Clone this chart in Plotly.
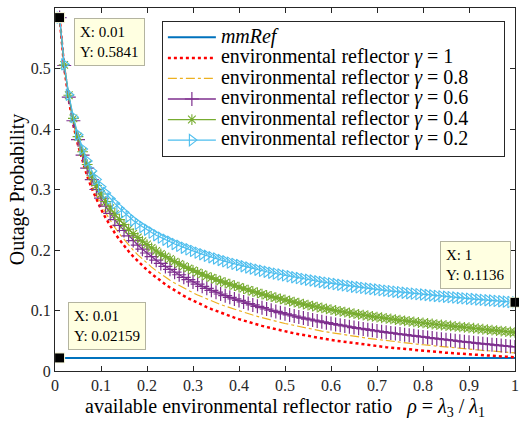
import plotly.graph_objects as go

# ---------------- data ----------------
rho = [0.01, 0.02, 0.03, 0.04, 0.05, 0.06, 0.07, 0.08, 0.09, 0.10,
       0.11, 0.12, 0.13, 0.14, 0.15, 0.16, 0.17, 0.18, 0.19, 0.20,
       0.21, 0.22, 0.23, 0.24, 0.25, 0.26, 0.27, 0.28, 0.29, 0.30,
       0.31, 0.32, 0.33, 0.34, 0.35, 0.36, 0.37, 0.38, 0.39, 0.40,
       0.41, 0.42, 0.43, 0.44, 0.45, 0.46, 0.47, 0.48, 0.49, 0.50,
       0.51, 0.52, 0.53, 0.54, 0.55, 0.56, 0.57, 0.58, 0.59, 0.60,
       0.61, 0.62, 0.63, 0.64, 0.65, 0.66, 0.67, 0.68, 0.69, 0.70,
       0.71, 0.72, 0.73, 0.74, 0.75, 0.76, 0.77, 0.78, 0.79, 0.80,
       0.81, 0.82, 0.83, 0.84, 0.85, 0.86, 0.87, 0.88, 0.89, 0.90,
       0.91, 0.92, 0.93, 0.94, 0.95, 0.96, 0.97, 0.98, 0.99, 1.00]

mmref_x = [0.01, 1.00]
mmref_y = [0.02159, 0.02159]

p_gamma_1 = [0.5841, 0.5020, 0.4477, 0.4066, 0.3734, 0.3458, 0.3222, 0.3017, 0.2837, 0.2676,
             0.2531, 0.2400, 0.2281, 0.2172, 0.2072, 0.1979, 0.1893, 0.1814, 0.1739, 0.1670,
             0.1605, 0.1544, 0.1486, 0.1432, 0.1381, 0.1332, 0.1287, 0.1243, 0.1202, 0.1163,
             0.1125, 0.1090, 0.1056, 0.1024, 0.0993, 0.0963, 0.0935, 0.0908, 0.0882, 0.0857,
             0.0833, 0.0810, 0.0788, 0.0767, 0.0746, 0.0727, 0.0708, 0.0690, 0.0672, 0.0655,
             0.0639, 0.0623, 0.0608, 0.0593, 0.0579, 0.0565, 0.0551, 0.0538, 0.0526, 0.0514,
             0.0502, 0.0491, 0.0480, 0.0469, 0.0458, 0.0448, 0.0439, 0.0429, 0.0420, 0.0411,
             0.0402, 0.0394, 0.0386, 0.0378, 0.0370, 0.0362, 0.0355, 0.0348, 0.0340, 0.0334,
             0.0327, 0.0321, 0.0314, 0.0308, 0.0302, 0.0297, 0.0291, 0.0285, 0.0280, 0.0275,
             0.0270, 0.0264, 0.0259, 0.0255, 0.0250, 0.0246, 0.0241, 0.0237, 0.0232, 0.0228]

p_gamma_08 = [0.5841, 0.5030, 0.4497, 0.4096, 0.3774, 0.3506, 0.3278, 0.3081, 0.2909, 0.2756,
              0.2615, 0.2488, 0.2373, 0.2268, 0.2172, 0.2081, 0.1997, 0.1920, 0.1847, 0.1780,
              0.1717, 0.1658, 0.1602, 0.1550, 0.1501, 0.1454, 0.1411, 0.1369, 0.1330, 0.1293,
              0.1256, 0.1222, 0.1189, 0.1158, 0.1128, 0.1099, 0.1072, 0.1046, 0.1021, 0.0997,
              0.0972, 0.0948, 0.0925, 0.0903, 0.0881, 0.0861, 0.0841, 0.0822, 0.0803, 0.0785,
              0.0768, 0.0751, 0.0735, 0.0719, 0.0704, 0.0689, 0.0674, 0.0660, 0.0647, 0.0634,
              0.0621, 0.0609, 0.0597, 0.0585, 0.0573, 0.0562, 0.0552, 0.0541, 0.0531, 0.0521,
              0.0511, 0.0502, 0.0493, 0.0484, 0.0475, 0.0466, 0.0458, 0.0450, 0.0441, 0.0434,
              0.0426, 0.0418, 0.0410, 0.0402, 0.0395, 0.0388, 0.0381, 0.0373, 0.0367, 0.0360,
              0.0353, 0.0346, 0.0340, 0.0335, 0.0329, 0.0323, 0.0317, 0.0312, 0.0306, 0.0300]

p_gamma_06 = [0.5841, 0.5050, 0.4527, 0.4136, 0.3824, 0.3568, 0.3352, 0.3164, 0.3000, 0.2856,
              0.2724, 0.2607, 0.2501, 0.2407, 0.2322, 0.2235, 0.2155, 0.2082, 0.2013, 0.1950,
              0.1889, 0.1832, 0.1778, 0.1728, 0.1681, 0.1634, 0.1591, 0.1549, 0.1510, 0.1473,
              0.1435, 0.1400, 0.1366, 0.1334, 0.1303, 0.1273, 0.1245, 0.1218, 0.1192, 0.1167,
              0.1141, 0.1116, 0.1092, 0.1069, 0.1046, 0.1025, 0.1004, 0.0984, 0.0964, 0.0945,
              0.0927, 0.0909, 0.0892, 0.0875, 0.0859, 0.0843, 0.0827, 0.0812, 0.0798, 0.0784,
              0.0770, 0.0757, 0.0744, 0.0731, 0.0718, 0.0706, 0.0695, 0.0683, 0.0672, 0.0661,
              0.0650, 0.0640, 0.0630, 0.0620, 0.0610, 0.0600, 0.0591, 0.0582, 0.0572, 0.0564,
              0.0554, 0.0545, 0.0535, 0.0526, 0.0517, 0.0509, 0.0500, 0.0491, 0.0483, 0.0475,
              0.0467, 0.0458, 0.0450, 0.0443, 0.0435, 0.0428, 0.0420, 0.0413, 0.0405, 0.0398]

p_gamma_04 = [0.5841, 0.5060, 0.4557, 0.4176, 0.3874, 0.3623, 0.3412, 0.3227, 0.3067, 0.2926,
              0.2801, 0.2690, 0.2591, 0.2502, 0.2422, 0.2343, 0.2271, 0.2206, 0.2145, 0.2090,
              0.2035, 0.1984, 0.1936, 0.1892, 0.1851, 0.1808, 0.1769, 0.1731, 0.1696, 0.1663,
              0.1629, 0.1598, 0.1568, 0.1540, 0.1513, 0.1485, 0.1459, 0.1434, 0.1410, 0.1387,
              0.1362, 0.1338, 0.1315, 0.1293, 0.1271, 0.1251, 0.1231, 0.1212, 0.1193, 0.1175,
              0.1157, 0.1139, 0.1122, 0.1105, 0.1089, 0.1073, 0.1057, 0.1042, 0.1028, 0.1014,
              0.1000, 0.0987, 0.0974, 0.0961, 0.0948, 0.0936, 0.0925, 0.0913, 0.0902, 0.0891,
              0.0880, 0.0870, 0.0860, 0.0850, 0.0840, 0.0830, 0.0821, 0.0812, 0.0802, 0.0794,
              0.0785, 0.0777, 0.0768, 0.0760, 0.0752, 0.0745, 0.0737, 0.0729, 0.0722, 0.0715,
              0.0707, 0.0698, 0.0690, 0.0683, 0.0675, 0.0668, 0.0660, 0.0653, 0.0645, 0.0638]

p_gamma_02 = [0.5841, 0.5070, 0.4567, 0.4196, 0.3904, 0.3668, 0.3472, 0.3307, 0.3167, 0.3046,
              0.2941, 0.2850, 0.2771, 0.2692, 0.2622, 0.2552, 0.2489, 0.2433, 0.2381, 0.2335,
              0.2288, 0.2245, 0.2205, 0.2169, 0.2136, 0.2100, 0.2069, 0.2038, 0.2011, 0.1985,
              0.1956, 0.1930, 0.1904, 0.1881, 0.1859, 0.1835, 0.1813, 0.1791, 0.1771, 0.1752,
              0.1731, 0.1711, 0.1692, 0.1674, 0.1656, 0.1640, 0.1624, 0.1609, 0.1594, 0.1580,
              0.1565, 0.1550, 0.1536, 0.1522, 0.1509, 0.1496, 0.1483, 0.1471, 0.1460, 0.1449,
              0.1437, 0.1426, 0.1415, 0.1404, 0.1393, 0.1383, 0.1374, 0.1364, 0.1355, 0.1346,
              0.1337, 0.1328, 0.1320, 0.1311, 0.1303, 0.1294, 0.1286, 0.1279, 0.1270, 0.1264,
              0.1256, 0.1249, 0.1241, 0.1234, 0.1227, 0.1221, 0.1214, 0.1207, 0.1201, 0.1195,
              0.1189, 0.1182, 0.1176, 0.1170, 0.1164, 0.1159, 0.1153, 0.1147, 0.1141, 0.1136]

tip_x = [0.01, 0.01, 1]
tip_y = [0.5841, 0.02159, 0.1136]
tip_x_text = ["0.01", "0.01", "1"]
tip_y_text = ["0.5841", "0.02159", "0.1136"]

x_tick_vals = [0, 0.1, 0.2, 0.3, 0.4, 0.5, 0.6, 0.7, 0.8, 0.9, 1]
x_tick_text = ["0", "0.1", "0.2", "0.3", "0.4", "0.5", "0.6", "0.7", "0.8", "0.9", "1"]
y_tick_vals = [0, 0.1, 0.2, 0.3, 0.4, 0.5, 0.6]
y_tick_text = ["0", "0.1", "0.2", "0.3", "0.4", "0.5", "0.6"]

# ---------------- figure ----------------
FONT = "Liberation Serif"
AX = "#262626"
PAD = "\u00a0" * 6


def leg(txt):
    return '<span style="font-size:20px">' + txt + PAD + '</span>'


fig = go.Figure()

fig.add_trace(go.Scatter(
    x=mmref_x, y=mmref_y, mode="lines", name=leg("<i>mmRef</i>"),
    line=dict(color="#0072BD", width=2)))

fig.add_trace(go.Scatter(
    x=rho, y=p_gamma_1, mode="lines", name=leg("environmental reflector <i>γ</i> = 1"),
    line=dict(color="#FF0000", width=2.5, dash="dot")))

fig.add_trace(go.Scatter(
    x=rho, y=p_gamma_08, mode="lines", name=leg("environmental reflector <i>γ</i> = 0.8"),
    line=dict(color="#EDB120", width=1.2, dash="dashdot")))

fig.add_trace(go.Scatter(
    x=rho, y=p_gamma_06, mode="lines+markers", name=leg("environmental reflector <i>γ</i> = 0.6"),
    line=dict(color="#7E2F8E", width=1.3),
    marker=dict(symbol="cross-thin-open", size=10,
                line=dict(color="rgba(126,47,142,0.75)", width=1.2))))

fig.add_trace(go.Scatter(
    x=rho, y=p_gamma_04, mode="lines+markers", name=leg("environmental reflector <i>γ</i> = 0.4"),
    line=dict(color="#77AC30", width=1.2),
    marker=dict(symbol="asterisk-open", size=9,
                line=dict(color="rgba(119,172,48,0.8)", width=1.1))))

fig.add_trace(go.Scatter(
    x=rho, y=p_gamma_02, mode="lines+markers", name=leg("environmental reflector <i>γ</i> = 0.2"),
    line=dict(color="#4DBEEE", width=1.2),
    marker=dict(symbol="triangle-right-open", size=10, color="#4DBEEE",
                line=dict(color="#4DBEEE", width=1.1))))

fig.add_trace(go.Scatter(
    x=tip_x, y=tip_y, mode="markers", showlegend=False, cliponaxis=False,
    marker=dict(symbol="square", size=10, color="black",
                line=dict(color="#FFFFE1", width=1))))

# datatip boxes
tip_anchor = [(0.041, 0.583), (0.028, 0.1135), (0.838, 0.2157)]
for i in range(len(tip_x)):
    ax_, ay_ = tip_anchor[i]
    fig.add_annotation(
        x=ax_, y=ay_, xref="x", yref="y", xanchor="left", yanchor="top",
        showarrow=False, align="left",
        text="X: " + tip_x_text[i] + "<br>Y: " + tip_y_text[i],
        font=dict(family=FONT, size=15, color="black"),
        bgcolor="#FFFFE1", bordercolor="#B4B4A0", borderwidth=1, borderpad=5)

fig.update_layout(
    width=519, height=423,
    margin=dict(l=55, r=4, t=8, b=52, autoexpand=False),
    paper_bgcolor="white", plot_bgcolor="white",
    font=dict(family=FONT, color="black"),
    showlegend=True,
    legend=dict(
        x=0.978, y=0.964, xanchor="right", yanchor="top",
        bgcolor="white", bordercolor=AX, borderwidth=1,
        font=dict(family=FONT, size=13.5, color="black"),
        itemwidth=48, tracegroupgap=0, traceorder="normal"),
    xaxis=dict(
        range=[0, 1], tickvals=x_tick_vals, ticktext=x_tick_text,
        showgrid=False, zeroline=False, showline=True, linecolor=AX, linewidth=1,
        mirror="ticks", ticks="inside", ticklen=5, tickcolor=AX, automargin=False,
        tickfont=dict(family=FONT, size=16, color=AX),
        title=dict(text="available environmental reflector ratio\u00a0\u00a0 <i>ρ</i> = <i>λ</i><sub>3</sub> / <i>λ</i><sub>1</sub>",
                   font=dict(family=FONT, size=20, color="black"), standoff=5)),
    yaxis=dict(
        range=[0, 0.6], tickvals=y_tick_vals, ticktext=y_tick_text,
        showgrid=False, zeroline=False, showline=True, linecolor=AX, linewidth=1,
        mirror="ticks", ticks="inside", ticklen=5, tickcolor=AX, automargin=False,
        tickfont=dict(family=FONT, size=16, color=AX),
        title=dict(text="Outage Probability",
                   font=dict(family=FONT, size=20, color="black"), standoff=0)),
)

fig.write_html("out.html", config={"displayModeBar": False},
               post_script="document.body.style.margin='0px';")
